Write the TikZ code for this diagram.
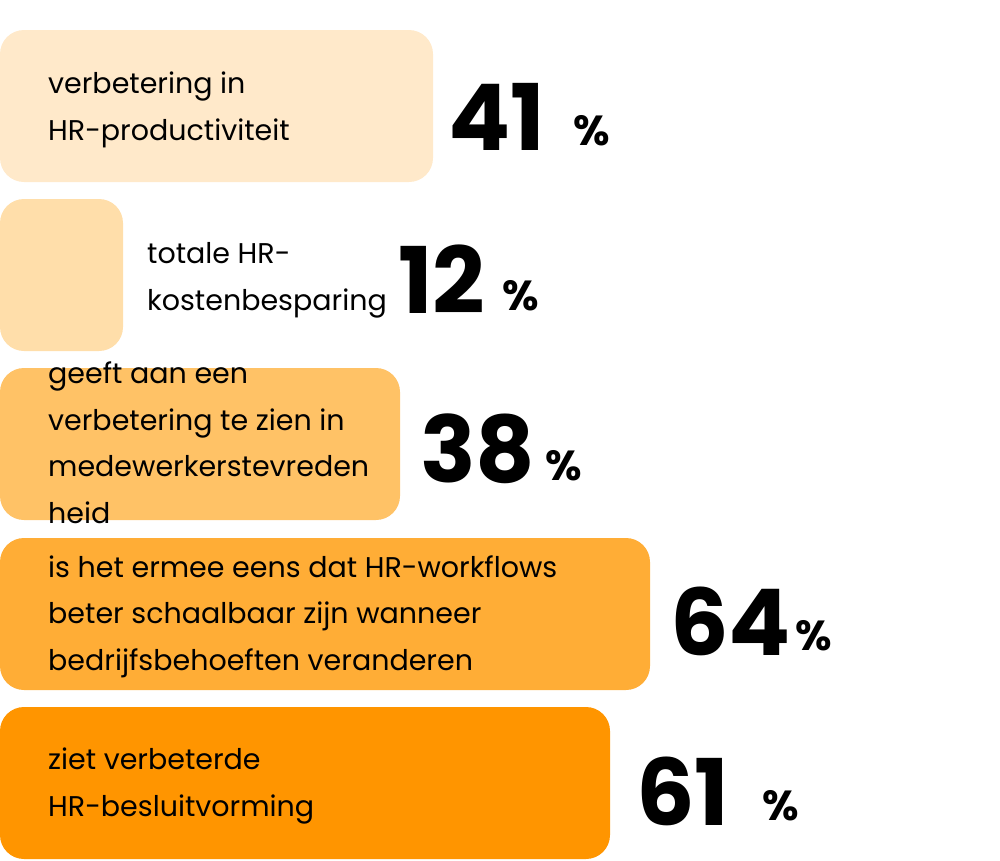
\documentclass[tikz,border=0pt]{standalone}
\usepackage{fontspec}
\setmainfont{Poppins}
\definecolor{cA}{HTML}{FFE9CA}
\definecolor{cB}{HTML}{FFDEAA}
\definecolor{cC}{HTML}{FFC266}
\definecolor{cD}{HTML}{FFAD36}
\definecolor{cE}{HTML}{FF9500}
\tikzset{bar/.style={rounded corners=24pt},
 lbl/.style={anchor=base west,inner sep=0,align=left,font=\fontsize{28.5}{46.5}\selectfont},
 big/.style={anchor=base west,inner sep=0,font=\fontsize{92}{92}\selectfont\bfseries},
 pct/.style={anchor=base west,inner sep=0,font=\fontsize{42}{42}\selectfont\bfseries}}
\begin{document}
\begin{tikzpicture}[x=1pt,y=-1pt]
\useasboundingbox (0,0) rectangle (1000,860);
\fill[cA,bar] (0,30) rectangle (433,182);
\fill[cB,bar] (0,199) rectangle (123,351);
\fill[cC,bar] (0,368) rectangle (400,520);
\fill[cD,bar] (0,538) rectangle (650,690);
\fill[cE,bar] (0,707) rectangle (610,859);
\node[lbl] (t1) at (48,140) {verbetering in\\HR-productiviteit};
\node[lbl] (t2) at (147,310) {totale HR-\\kostenbesparing};
\node[lbl] (t3) at (48,523) {geeft aan een\\verbetering te zien in\\medewerkerstevreden\\heid};
\node[lbl] (t4) at (48,670) {is het ermee eens dat HR-workflows\\beter schaalbaar zijn wanneer\\bedrijfsbehoeften veranderen};
\node[lbl] (t5) at (48,816) {ziet verbeterde\\HR-besluitvorming};
\node[big] (n1) at (448,150) {41}; \node[pct] (p1) at (573,145) {\%};
\node[big] (n2) at (398,313) {12}; \node[pct] (p2) at (502,310) {\%};
\node[big] (n3) at (420,482) {38}; \node[pct] (p3) at (545,480) {\%};
\node[big] (n4) at (670,655) {64}; \node[pct] (p4) at (795,650) {\%};
\node[big] (n5) at (636,825) {61}; \node[pct] (p5) at (762,820) {\%};
\end{tikzpicture}
\end{document}
